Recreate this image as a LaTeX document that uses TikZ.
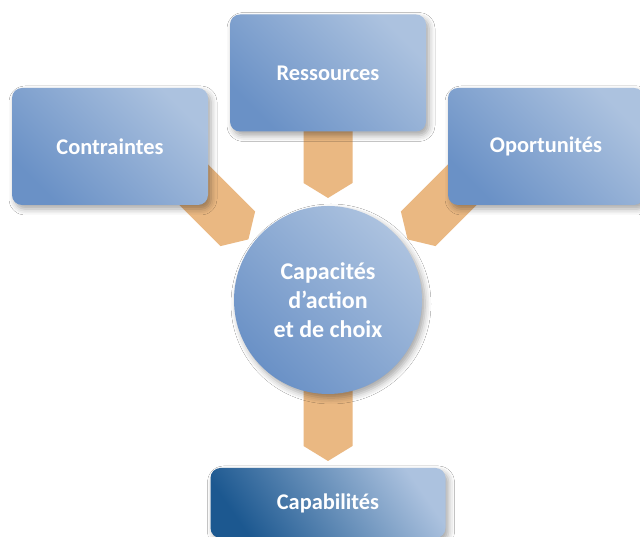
\documentclass[tikz,border=0pt]{standalone}
\usepackage{fontspec}
\setmainfont{Carlito}
\usetikzlibrary{calc,backgrounds,shadows.blur}

\newcommand{\pointer}[2]{%
  \fill[pointerfill] (#2) -- ($(#2)!15pt!(#1)!24.5pt!90:(#1)$) -- ($(#1)!24.5pt!-90:(#2)$) --
    ($(#1)!24.5pt!90:(#2)$) -- ($(#2)!15pt!(#1)!24.5pt!-90:(#1)$) -- cycle;}

\tikzset{
  softshadow/.style={blur shadow={shadow xshift=3pt,shadow yshift=-4pt,shadow blur radius=6pt,shadow opacity=35}},
  boxnode/.style={rounded corners=10pt,minimum width=196pt,minimum height=117pt,inner sep=0pt,
    text=white,font=\fontsize{22.4}{27}\selectfont\bfseries,
    bottom color=boxDark,top color=boxLight,shading angle=-45,softshadow},
  roundnode/.style={circle,minimum size=188pt,inner sep=0pt,align=center,
    text=white,font=\fontsize{24}{29}\selectfont\bfseries,
    bottom color=boxDark,top color=boxLight,shading angle=-45,softshadow},
  endnode/.style={boxnode,minimum width=235pt,minimum height=70pt,bottom color=endDark,shading angle=-55},
  pointerfill/.style={fill=pointerColor}
}

\begin{document}
\begin{tikzpicture}[x=1pt,y=1pt]
\definecolor{boxDark}{RGB}{106,145,198}
\definecolor{boxLight}{RGB}{172,194,223}
\definecolor{endDark}{RGB}{28,88,144}
\definecolor{pointerColor}{RGB}{234,184,130}
\path[use as bounding box] (0,0) rectangle (640,537);

\node[boxnode] (contraintes) at (110,390.5) {Contraintes};
\node[boxnode] (ressources) at (328,464) {Ressources};
\node[boxnode] (oportunites) at (546,390.5) {Oportunités};
\node[roundnode] (capacites) at (328,237) {Capacités\\d’action\\et de choix};
\node[endnode] (capabilites) at (328,34) {Capabilités};

\coordinate (contStart) at (184.8,361.2);
\coordinate (contTip) at (248.4,297.6);
\coordinate (resTip) at (328,339);
\coordinate (oporStart) at (471.2,361.2);
\coordinate (oporTip) at (407.6,297.6);
\coordinate (capTip) at (328,76);

\begin{scope}[on background layer]
\fill[white] (0,0) rectangle (640,537);
\pointer{contStart}{contTip}
\pointer{ressources.center}{resTip}
\pointer{oporStart}{oporTip}
\pointer{capacites.center}{capTip}
\end{scope}
\end{tikzpicture}
\end{document}
